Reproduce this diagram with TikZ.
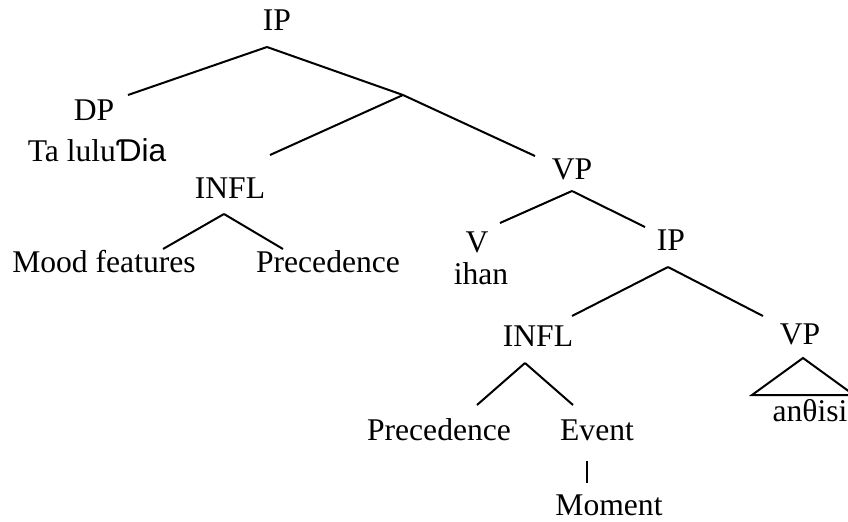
\documentclass[tikz,border=0pt]{standalone}
\usepackage{fontspec}
\setmainfont{Liberation Serif}
\newfontfamily\hookfont{Liberation Sans}
\usetikzlibrary{positioning}

\begin{document}
\begin{tikzpicture}[x=0.5pt,y=-0.5pt,
	every node/.style={font=\fontsize{15.8}{18}\selectfont,inner sep=0pt},
	branch/.style={line width=1pt}]
	\useasboundingbox (0,0) rectangle (848,521);
	% labels
	\node (ip1)   at (277,20)  {IP};
	\node (dp)    at (94,110)  {DP};
	\node (dpw)   at (97,150)  {Ta lulu{\hookfont Ɗia}};
	\node (infl1) at (230,188) {INFL};
	\node (mood)  at (104,262) {Mood features};
	\node (prec1) at (328,262) {Precedence};
	\node (vp1)   at (572,169) {VP};
	\node (v)     at (477,242) {V};
	\node (ihan)  at (481,274) {ihan};
	\node (ip2)   at (671,240) {IP};
	\node (infl2) at (538,336) {INFL};
	\node (vp2)   at (800,334) {VP};
	\node (anth)  at (810,411) {anθisi};
	\node (prec2) at (439,430) {Precedence};
	\node (event) at (597,430) {Event};
	\node (mom)   at (609,505) {Moment};
	% branch points
	\coordinate (ip1t) at (267,47);
	\coordinate (dpt)  at (128,95);
	\coordinate (ibar) at (403,95);
	\coordinate (i1t)  at (270,155);
	\coordinate (v1t)  at (535,156);
	\coordinate (i1b)  at (224,214);
	\coordinate (mdt)  at (163,249);
	\coordinate (p1t)  at (283,249);
	\coordinate (v1b)  at (572,191);
	\coordinate (vt)   at (500,223);
	\coordinate (ip2t) at (645,227);
	\coordinate (ip2b) at (668,267);
	\coordinate (i2t)  at (572,316);
	\coordinate (v2t)  at (763,316);
	\coordinate (i2b)  at (525,363);
	\coordinate (p2t)  at (477,405);
	\coordinate (evt)  at (573,405);
	\coordinate (evb)  at (587,461);
	\coordinate (mot)  at (587,483);
	\coordinate (tri)  at (803,358);
	\coordinate (tril) at (752,395);
	\coordinate (trir) at (854,395);
	
	\path[branch]
	(ip1t) edge (dpt)
	edge (ibar)
	(ibar) edge (i1t)
	edge (v1t)
	(i1b) edge (mdt)
	edge (p1t)
	(v1b) edge (vt)
	edge (ip2t)
	(ip2b) edge (i2t)
	edge (v2t)
	(i2b) edge (p2t)
	edge (evt)
	(evb) edge (mot);
	\draw[branch] (tri) -- (tril) -- (trir) -- cycle;
\end{tikzpicture}
\end{document}
